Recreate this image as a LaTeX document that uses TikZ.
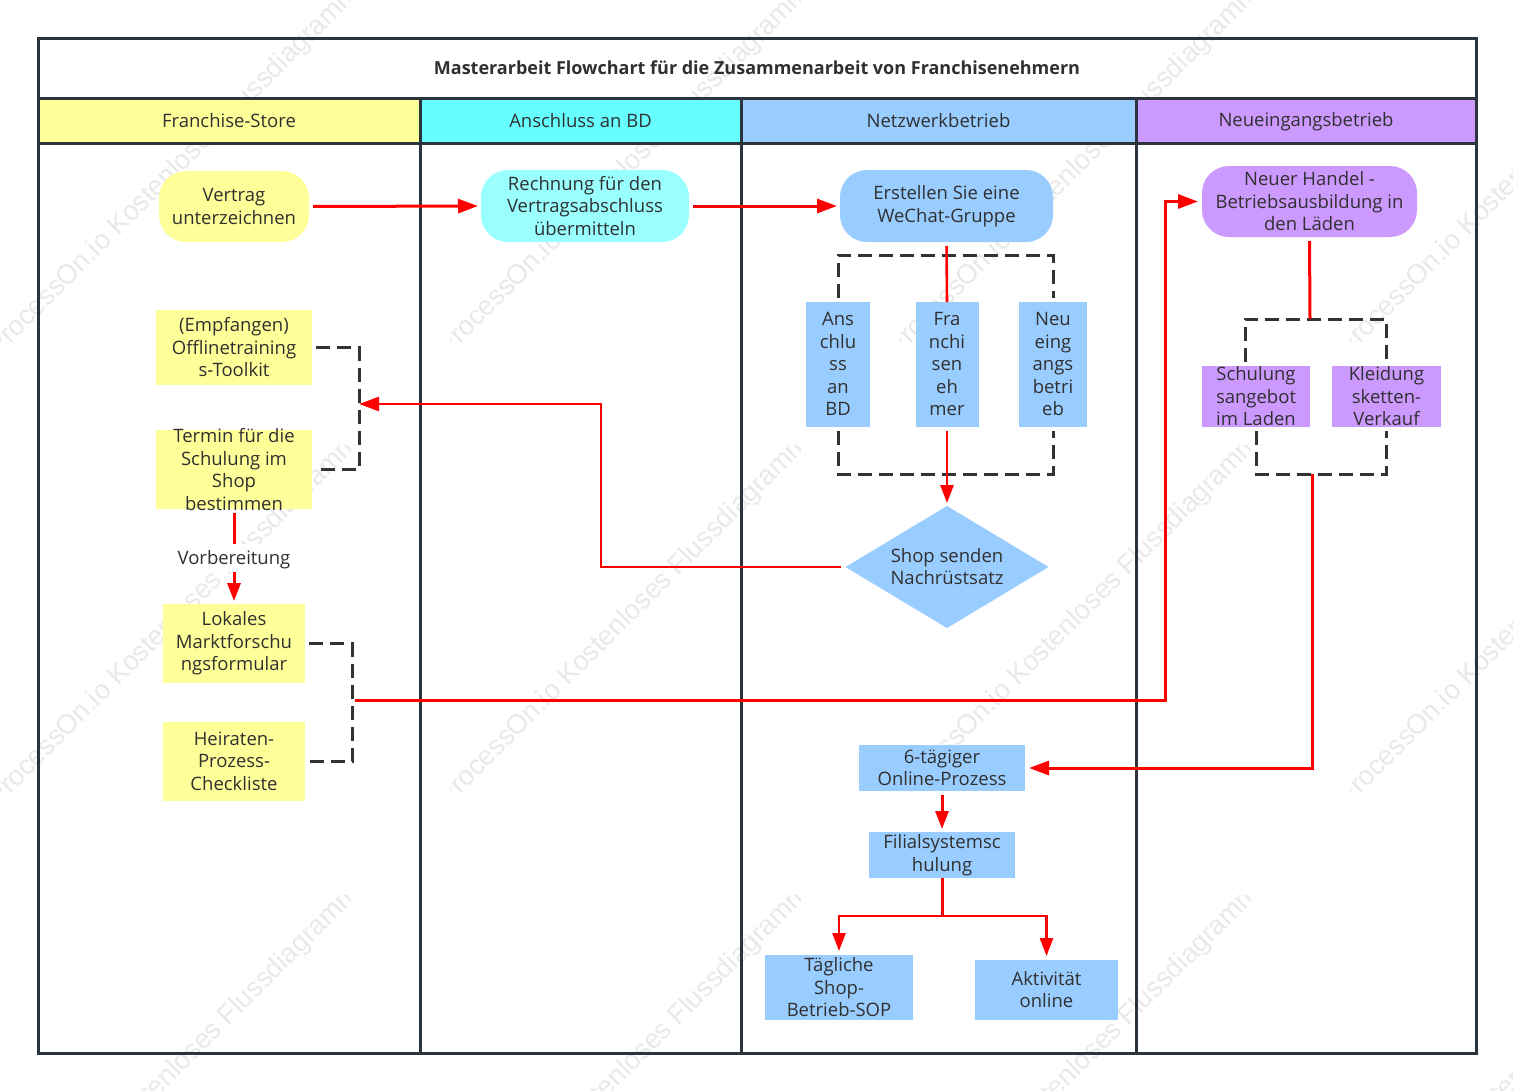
\documentclass[tikz,border=0pt]{standalone}
\usepackage{fontspec}
\setmainfont{Open Sans}
\newfontfamily\wmfont{Liberation Sans}
\usetikzlibrary{arrows.meta,shapes.geometric}
\definecolor{frameC}{HTML}{2B333D}
\definecolor{txtC}{HTML}{303030}
\definecolor{dashC}{HTML}{333333}
\definecolor{wmC}{HTML}{E9E9E9}
\definecolor{yel}{HTML}{FFFF99}
\definecolor{cya}{HTML}{66FFFF}
\definecolor{cyl}{HTML}{99FFFF}
\definecolor{blu}{HTML}{99CCFF}
\definecolor{pur}{HTML}{CC99FF}
\newcommand\firstline{\leavevmode\rule{0pt}{17.4pt}}
\newcommand\lastline{\rule[-0.6pt]{0pt}{0.6pt}}
\tikzset{
  struts/.style={execute at begin node=\firstline,execute at end node=\lastline},
  base/.style={inner sep=0pt,outer sep=0pt,align=center,text=txtC,font=\fontsize{18.5}{22.5}\selectfont,struts},
  plainbox/.style={inner sep=0pt,outer sep=0pt},
  lane/.style={draw=frameC,line width=3pt,inner sep=0pt,outer sep=0pt},
  head/.style={lane,align=center,text=txtC,font=\fontsize{18.5}{22.5}\selectfont,execute at begin node=\leavevmode\rule{0pt}{16.3pt},execute at end node=\rule[-1.7pt]{0pt}{1.7pt}},
  titlebox/.style={lane,align=center,text=txtC,font=\fontsize{18}{22}\selectfont\bfseries},
  pill/.style={base,rounded corners=27pt},
  redline/.style={draw=red,line width=3pt,shorten <=4pt,shorten >=3pt},
  redarrow/.style={redline,-{Triangle[length=18pt,width=13pt]}},
  longarrow/.style={redline,-{Triangle[length=20pt,width=14pt]}},
  thinred/.style={line width=2.6pt},
  dashline/.style={draw=dashC,line width=3pt,dash pattern=on 14pt off 7pt,shorten <=4pt,shorten >=4pt},
  wm/.style={text=wmC,rotate=45,font=\wmfont\fontsize{27.3}{28}\selectfont,inner sep=0pt}
}
\begin{document}
\begin{tikzpicture}[x=1pt,y=-1pt]
\useasboundingbox (0,0) rectangle (1513,1090);
\fill[white] (0,0) rectangle (1513,1090);
% watermark tiles
\foreach \tx in {0,450,900,1350}{
  \foreach \ty in {-5,445,895}{
    \begin{scope}
      \clip (\tx,\ty) rectangle ++(350,350);
      \node[wm] at ({\tx+174},{\ty+176}) {ProcessOn.io Kostenloses Flussdiagramm};
    \end{scope}
  }
}
% frame
\node[titlebox,minimum width=1438pt,minimum height=60pt] (title) at (757,68) {Masterarbeit Flowchart für die Zusammenarbeit von Franchisenehmern};
\node[lane,minimum width=382pt,minimum height=910pt] (l1) at (229,598) {};
\node[lane,minimum width=321pt,minimum height=910pt] (l2) at (580.5,598) {};
\node[lane,minimum width=395pt,minimum height=910pt] (l3) at (938.5,598) {};
\node[lane,minimum width=340pt,minimum height=910pt] (l4) at (1306,598) {};
\node[head,fill=yel,minimum width=382pt,minimum height=45pt] (h1) at (229,120.5) {Franchise-Store};
\node[head,fill=cya,minimum width=321pt,minimum height=45pt] (h2) at (580.5,120.5) {Anschluss an BD};
\node[head,fill=blu,minimum width=395pt,minimum height=45pt] (h3) at (938.5,120.5) {Netzwerkbetrieb};
\node[head,fill=pur,minimum width=340pt,minimum height=45pt] (h4) at (1306,120.5) {Neueingangsbetrieb};
% column 1
\node[pill,fill=yel,minimum width=150pt,minimum height=71pt] (vertrag) at (234,206.5) {Vertrag\\unterzeichnen};
\node[base,fill=yel,minimum width=156pt,minimum height=75pt] (empf) at (234,347.5) {(Empfangen)\\Offlinetraining\\s-Toolkit};
\node[plainbox,fill=yel,minimum width=156pt,minimum height=79pt] (termin) at (234,469.5) {};
\node[base] (termintext) at (termin.center) {Termin für die\\Schulung im\\Shop\\bestimmen};
\node[base,fill=yel,minimum width=142pt,minimum height=79pt] (lokal) at (234,643.5) {Lokales\\Marktforschu\\ngsformular};
\node[base,fill=yel,minimum width=142pt,minimum height=79pt] (heirat) at (234,761.5) {Heiraten-\\Prozess-\\Checkliste};
% column 2
\node[pill,fill=cyl,minimum width=208pt,minimum height=72pt] (rechnung) at (585,206) {Rechnung für den\\Vertragsabschluss\\übermitteln};
% column 3
\node[pill,fill=blu,minimum width=213pt,minimum height=72pt] (wechat) at (946.5,206) {Erstellen Sie eine\\WeChat-Gruppe};
\node[base,fill=blu,minimum width=64pt,minimum height=125pt] (ans) at (838,364.5) {Ans\\chlu\\ss\\an\\BD};
\node[base,fill=blu,minimum width=63pt,minimum height=125pt] (fra) at (947,364.5) {Fra\\nchi\\sen\\eh\\mer};
\node[base,fill=blu,minimum width=68pt,minimum height=125pt] (neu) at (1053,364.5) {Neu\\eing\\angs\\betri\\eb};
\node[base,fill=blu,diamond,aspect=1.66,minimum width=203pt,minimum height=122pt] (shop) at (947,567) {Shop senden\\Nachrüstsatz};
\node[base,fill=blu,minimum width=166pt,minimum height=46pt] (six) at (942,768) {6-tägiger\\Online-Prozess};
\node[base,fill=blu,minimum width=146pt,minimum height=46pt] (filial) at (942,855) {Filialsystemsc\\hulung};
\node[base,fill=blu,minimum width=148pt,minimum height=65pt] (taeg) at (839,987.5) {Tägliche\\Shop-\\Betrieb-SOP};
\node[base,fill=blu,minimum width=143pt,minimum height=60pt] (akt) at (1046.5,990) {Aktivität\\online};
% column 4
\node[pill,fill=pur,minimum width=215pt,minimum height=71pt] (handel) at (1309.5,201.5) {Neuer Handel -\\Betriebsausbildung in\\den Läden};
\node[plainbox,fill=pur,minimum width=108pt,minimum height=61pt] (schul) at (1256,396.5) {};
\node[base] (schultext) at (schul.center) {Schulung\\sangebot\\im Laden};
\node[plainbox,fill=pur,minimum width=109pt,minimum height=61pt] (kleid) at (1386.5,396.5) {};
\node[base] (kleidtext) at (kleid.center) {Kleidung\\sketten-\\Verkauf};
% junction points
\coordinate (mergeA) at (359,404);
\coordinate (turnA) at (601,404);
\coordinate (mergeB) at (352,700);
\coordinate (turnB) at (1165,700);
\coordinate (busTop) at (947,255);
\coordinate (busBot) at (947,474);
\coordinate (busTopS) at (1310,319);
\coordinate (busBotS) at (1312,474);
\coordinate (fork) at (942,916);
% dashed brackets
\draw[dashline] (empf.east) -- (empf.east -| mergeA) -- (termin.east -| mergeA) -- ([xshift=4pt]termin.east);
\draw[dashline] (lokal.east) -- (lokal.east -| mergeB) -- (heirat.east -| mergeB) -- (heirat.east);
\draw[dashline] (ans.north) |- (busTop) -| (neu.north);
\draw[dashline] (ans.south) |- (busBot) -| (neu.south);
\draw[dashline] ([xshift=-11pt]schul.north) |- (busTopS) -| (kleid.north);
\draw[dashline] (schul.south) |- (busBotS) -| (kleid.south);
% red connectors
\draw[longarrow] (vertrag.east) -- (rechnung.west);
\draw[longarrow] (rechnung.east) -- (wechat.west);
\draw[longarrow,thinred,shorten <=5pt,shorten >=0pt] (shop.west) -| (turnA) -- (mergeA);
\draw[redline,thinred,shorten >=0pt] (wechat.south) -- (fra.north);
\draw[redarrow,thinred] (fra.south) -- (shop.north);
\draw[redarrow] (termin.south) -- node[pos=.515,fill=white,base,inner ysep=3.5pt,inner xsep=2pt] (vorb) {Vorbereitung} (lokal.north);
\draw[longarrow,shorten <=3pt,shorten >=4pt] (mergeB) -- (turnB) |- (handel.west);
\draw[redline,shorten >=0pt] (handel.south) -- (busTopS);
\draw[longarrow,shorten <=0pt,shorten >=4pt] (busBotS) |- (six.east);
\draw[redarrow] (six.south) -- (filial.north);
\draw[redline,shorten >=0pt,shorten <=0pt] (filial.south) -- (fork);
\draw[redarrow,thinred,shorten <=0pt,shorten >=4pt] (fork) -| (taeg.north);
\draw[redarrow,thinred,shorten <=0pt,shorten >=4pt] (fork) -| (akt.north);
\end{tikzpicture}
\end{document}
